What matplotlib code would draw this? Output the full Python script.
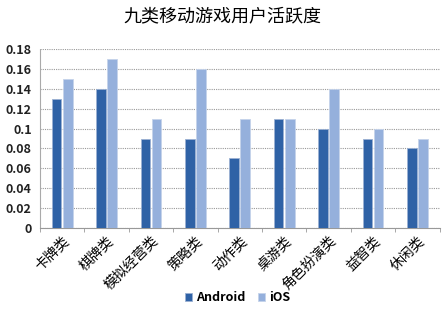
import matplotlib
matplotlib.use("Agg")
import matplotlib.pyplot as plt
import numpy as np

plt.rcParams['font.family'] = ['Noto Sans CJK SC', 'DejaVu Sans']

categories = ["卡牌类", "棋牌类", "模拟经营类", "策略类", "动作类", "桌游类", "角色扮演类", "益智类", "休闲类"]
android = [0.13, 0.14, 0.09, 0.09, 0.07, 0.11, 0.10, 0.09, 0.08]
ios = [0.15, 0.17, 0.11, 0.16, 0.11, 0.11, 0.14, 0.10, 0.09]
yticks = [0, 0.02, 0.04, 0.06, 0.08, 0.1, 0.12, 0.14, 0.16, 0.18]
ytick_labels = ["0", "0.02", "0.04", "0.06", "0.08", "0.1", "0.12", "0.14", "0.16", "0.18"]

fig = plt.figure(figsize=(4.44, 3.11), dpi=100)
ax = fig.add_axes([0.09, 0.267, 0.9, 0.575])

x = np.arange(len(categories))
w = 0.22
ax.bar(x - 0.125, android, w, color='#2f62a6', edgecolor='#9bb1d3', linewidth=0.6, label='Android', zorder=3)
ax.bar(x + 0.125, ios, w, color='#95b0dc', edgecolor='#c5d3ea', linewidth=0.6, label='iOS', zorder=3)

ax.set_ylim(0, 0.18)
ax.set_xlim(-0.5, len(categories) - 0.5)
ax.set_yticks(yticks)
ax.set_yticklabels(ytick_labels, fontsize=9, fontweight='bold', color='#222222')
ax.yaxis.grid(True, linestyle=(0, (1, 1)), color='#999999', linewidth=0.8, zorder=0)
ax.tick_params(axis='y', length=0, pad=6)

ax.set_xticks(x)
ax.set_xticklabels(categories, rotation=45, ha='right', rotation_mode='anchor', fontsize=10)
ax.tick_params(axis='x', length=0, pad=4)
ax.set_xticks(np.arange(-0.5, len(categories), 1), minor=True)
ax.tick_params(axis='x', which='minor', length=3, color='#999999', direction='out')

for s in ['top', 'right']:
    ax.spines[s].set_visible(False)
ax.spines['left'].set_color('#aaaaaa')
ax.spines['left'].set_linestyle((0, (1, 1)))
ax.spines['bottom'].set_color('#999999')

fig.suptitle("九类移动游戏用户活跃度", y=0.975, fontsize=13)
fig.legend(loc='lower center', bbox_to_anchor=(0.535, -0.015), ncol=2, frameon=False,
           handlelength=0.6, handleheight=0.6, handletextpad=0.3, columnspacing=1.0,
           prop={'weight': 'bold', 'size': 9})

fig.savefig("out.png", dpi=100)
